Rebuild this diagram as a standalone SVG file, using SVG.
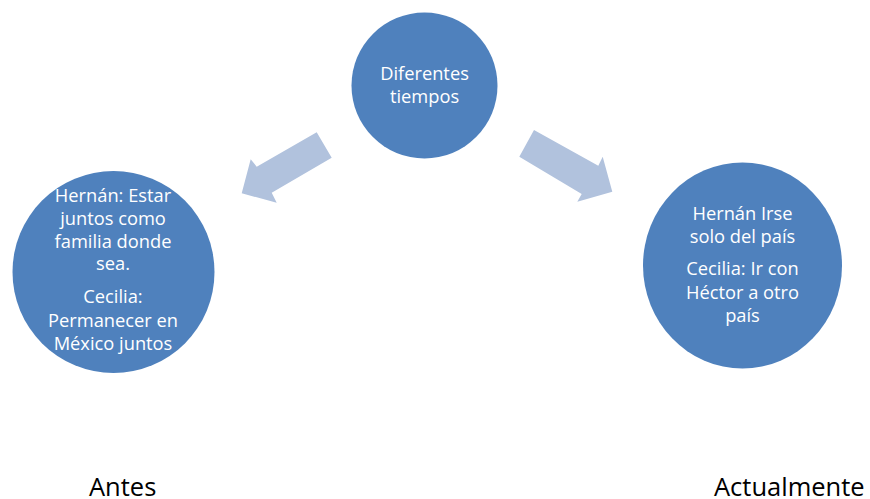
<svg xmlns="http://www.w3.org/2000/svg" width="870" height="499" viewBox="0 0 870 499">
  <style>
    .node { fill: #4f81bd; }
    .label { font-family: "Open Sans", "Liberation Sans", sans-serif; font-size: 18.3px; fill: #ffffff; text-anchor: middle; }
    .arrow { fill: #b1c2dd; }
    .caption { font-family: "Open Sans", "Liberation Sans", sans-serif; font-size: 25.5px; fill: #000000; }
  </style>
  <rect width="870" height="499" fill="#ffffff"/>

  <!-- connectors: block arrows from the central node -->
  <g id="connectors">
    <polygon class="arrow" points="316.7,132.3 331.7,157.7 271.7,192.7 276.7,202.7 241.7,193.3 250.7,159.3 256.7,166.7"/>
    <polygon class="arrow" points="534,130 598.3,165.7 602.7,156.7 612.3,191.7 577.3,201.7 581.7,194 519.3,156.7"/>
  </g>

  <g id="node-tiempos">
    <circle class="node" cx="424.5" cy="85.5" r="73"/>
    <text class="label" x="424.5" y="80">Diferentes</text>
    <text class="label" x="424.5" y="102.7">tiempos</text>
  </g>

  <g id="node-antes">
    <circle class="node" cx="113.5" cy="272" r="101"/>
    <text class="label" x="113" y="202">Hernán: Estar</text>
    <text class="label" x="113" y="225">juntos como</text>
    <text class="label" x="113" y="247.5">familia donde</text>
    <text class="label" x="113" y="270">sea.</text>
    <text class="label" x="113" y="303">Cecilia:</text>
    <text class="label" x="113" y="326.5">Permanecer en</text>
    <text class="label" x="113" y="350">México juntos</text>
  </g>

  <g id="node-actualmente">
    <ellipse class="node" cx="742.5" cy="265.5" rx="99.5" ry="103"/>
    <text class="label" x="742.5" y="220">Hernán Irse</text>
    <text class="label" x="742.5" y="243">solo del país</text>
    <text class="label" x="742.5" y="275">Cecilia: Ir con</text>
    <text class="label" x="742.5" y="298.5">Héctor a otro</text>
    <text class="label" x="742.5" y="322">país</text>
  </g>

  <g id="captions">
    <text class="caption" x="89" y="496">Antes</text>
    <text class="caption" x="714" y="496">Actualmente</text>
  </g>
</svg>
